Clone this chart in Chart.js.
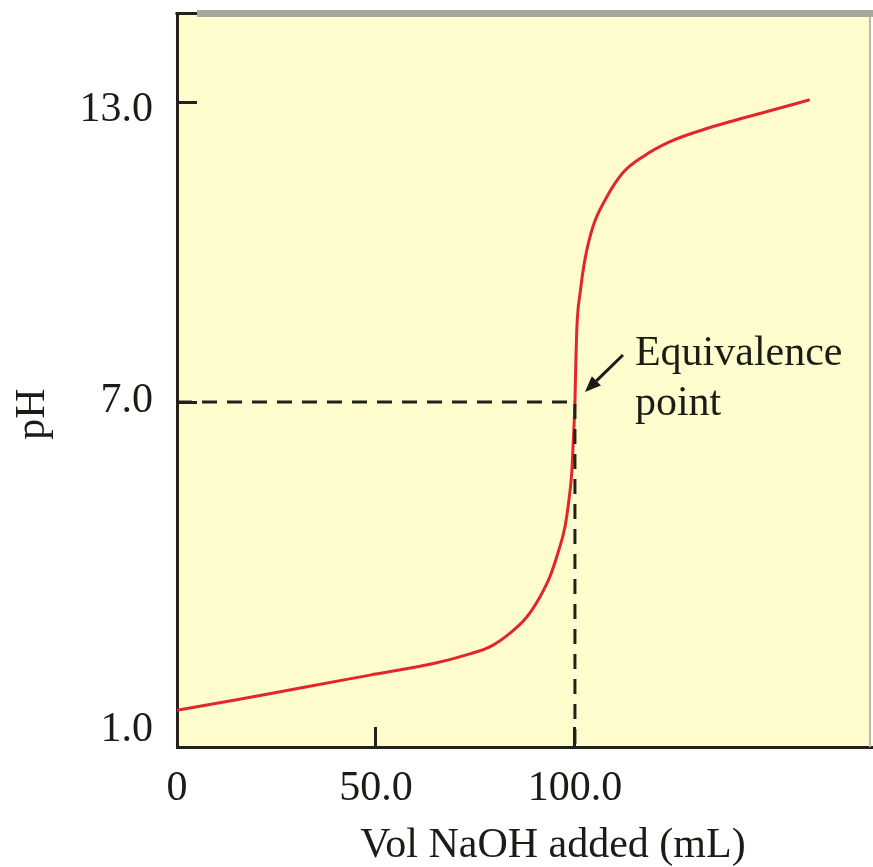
<!DOCTYPE html>
<html>
<head>
<meta charset="utf-8">
<title>Titration curve</title>
<script src="https://cdn.jsdelivr.net/npm/chart.js@4.4.1/dist/chart.umd.min.js"></script>
<style>
  html, body { margin: 0; padding: 0; background: #fff; }
  #wrap { width: 873px; height: 867px; }
</style>
</head>
<body>
<div id="wrap"><canvas id="titrationChart" width="873" height="867"></canvas></div>
<script>
// Titration data: volume of NaOH added (mL) and resulting pH
const volumes = [0, 15, 32, 48.5, 65, 73.6, 78.6, 83.7, 87.9, 91.2, 93.7, 95.7, 97.5, 98.5, 99.2, 99.6,
                 100, 100.2, 100.5, 101.3, 102.5, 104.5, 108, 112.1, 117.1, 123.9, 132.2, 138.9, 149, 159];
const phValues = [1.64, 1.82, 2.04, 2.25, 2.46, 2.62, 2.74, 2.98, 3.26, 3.61, 3.96, 4.37, 4.83, 5.30, 5.77, 6.34,
                  7.0, 7.7, 8.51, 9.19, 9.85, 10.51, 11.11, 11.6, 11.92, 12.22, 12.46, 12.62, 12.84, 13.06];

// Equivalence point
const eqVolume = 100;
const eqPH = 7.0;

// Axis ticks
const xTicks = [0, 50, 100];
const xTickLabels = ['0', '50.0', '100.0'];
const yTicks = [1, 7, 13];
const yTickLabels = ['1.0', '7.0', '13.0'];
const yMin = 1;
const yMax = 14.8;
const xMax = 174.4;

// The pH axis is drawn in two linear pieces, stretched below the break
const PH_BREAK = 7;
const PH_BREAK_AT = 0.47;   // share of the height below the break

class BrokenLinearScale extends Chart.LinearScale {
    getPixelForValue(value) {
        if (value === null || value === undefined) return NaN;
        let dec;
        if (value <= PH_BREAK) {
            dec = (value - this.min) / (PH_BREAK - this.min) * PH_BREAK_AT;
        } else {
            dec = PH_BREAK_AT + (value - PH_BREAK) / (this.max - PH_BREAK) * (1 - PH_BREAK_AT);
        }
        return this.getPixelForDecimal(dec);
    }
    getValueForPixel(pixel) {
        const dec = this.getDecimalForPixel(pixel);
        if (dec <= PH_BREAK_AT) return this.min + dec / PH_BREAK_AT * (PH_BREAK - this.min);
        return PH_BREAK + (dec - PH_BREAK_AT) / (1 - PH_BREAK_AT) * (this.max - PH_BREAK);
    }
}
BrokenLinearScale.id = 'brokenLinear';
BrokenLinearScale.defaults = Chart.LinearScale.defaults;
Chart.register(BrokenLinearScale);

const SERIF = '"Liberation Serif", "Times New Roman", serif';
const INK = '#1c1c16';
const AXIS = '#22221a';

// Background, frame, y labels, axis titles and the equivalence note
const decorPlugin = {
    id: 'decor',
    beforeDraw(chart) {
        const { ctx, chartArea: a } = chart;
        ctx.save();
        ctx.fillStyle = '#fffccd';
        ctx.fillRect(a.left, a.top, a.right - a.left, a.bottom - a.top);
        ctx.restore();
    },
    afterDraw(chart) {
        const { ctx, chartArea: a, scales: { x, y } } = chart;
        ctx.save();

        // frame: grey top bar and faint right edge
        ctx.fillStyle = '#a8a8a2';
        ctx.fillRect(a.left + 20, a.top - 3, chart.width - a.left - 20, 7);
        ctx.fillStyle = AXIS;
        ctx.fillRect(a.left - 1.5, a.top - 1, 21.5, 3);
        ctx.strokeStyle = '#bdbba6';
        ctx.lineWidth = 2;
        ctx.beginPath();
        ctx.moveTo(a.right - 1, a.top + 4);
        ctx.lineTo(a.right - 1, a.bottom);
        ctx.stroke();

        // y tick labels
        const nudge = [-17, -1, 7];
        ctx.font = '42px ' + SERIF;
        ctx.fillStyle = INK;
        ctx.textAlign = 'right';
        ctx.textBaseline = 'middle';
        yTicks.forEach((v, i) => {
            ctx.fillText(yTickLabels[i], a.left - 24, y.getPixelForValue(v) + nudge[i]);
        });

        // axis titles
        ctx.textAlign = 'center';
        ctx.textBaseline = 'alphabetic';
        ctx.fillText('Vol NaOH added (mL)', a.left + 376, a.bottom + 110);
        ctx.save();
        ctx.translate(44, a.top + 401);
        ctx.rotate(-Math.PI / 2);
        ctx.fillText('pH', 0, 0);
        ctx.restore();

        // equivalence point note with arrow
        const px = x.getPixelForValue(eqVolume);
        const py = y.getPixelForValue(eqPH);
        ctx.textAlign = 'left';
        ctx.fillText('Equivalence', px + 60, py - 37);
        ctx.fillText('point', px + 60, py + 13);

        const tx = px + 48, ty = py - 47;
        const hx = px + 10, hy = py - 10;
        const ang = Math.atan2(hy - ty, hx - tx);
        const headLen = 16, headW = 6.5;
        const bx = hx - headLen * Math.cos(ang), by = hy - headLen * Math.sin(ang);
        ctx.strokeStyle = INK;
        ctx.lineWidth = 3;
        ctx.beginPath();
        ctx.moveTo(tx, ty);
        ctx.lineTo(bx, by);
        ctx.stroke();
        ctx.fillStyle = INK;
        ctx.beginPath();
        ctx.moveTo(hx, hy);
        ctx.lineTo(bx + headW * Math.sin(ang), by - headW * Math.cos(ang));
        ctx.lineTo(bx - headW * Math.sin(ang), by + headW * Math.cos(ang));
        ctx.closePath();
        ctx.fill();

        ctx.restore();
    }
};

const ctx = document.getElementById('titrationChart').getContext('2d');
const chart = new Chart(ctx, {
    type: 'line',
    data: {
        datasets: [
            {
                label: 'Equivalence guide',
                data: [{ x: 0, y: eqPH }, { x: eqVolume, y: eqPH }, { x: eqVolume, y: yMin }],
                borderColor: AXIS,
                borderWidth: 3,
                borderDash: [15, 10],
                pointRadius: 0,
                tension: 0,
                fill: false
            },
            {
                label: 'pH',
                data: volumes.map((v, i) => ({ x: v, y: phValues[i] })),
                borderColor: '#e2262a',
                borderWidth: 3,
                pointRadius: 0,
                cubicInterpolationMode: 'monotone',
                fill: false
            }
        ]
    },
    options: {
        responsive: false,
        animation: false,
        layout: { padding: { top: 13, right: 2, left: 0, bottom: 0 } },
        plugins: {
            legend: { display: false },
            tooltip: { enabled: false }
        },
        scales: {
            x: {
                type: 'linear',
                position: 'bottom',
                min: 0,
                max: xMax,
                afterBuildTicks: scale => { scale.ticks = xTicks.map(v => ({ value: v })); },
                afterFit: scale => { scale.height = 120; },
                grid: { drawOnChartArea: false, drawTicks: true, tickLength: -20, color: AXIS, lineWidth: 3 },
                border: { display: true, color: AXIS, width: 3 },
                ticks: {
                    autoSkip: false,
                    maxRotation: 0,
                    padding: 37,
                    color: INK,
                    font: { family: SERIF, size: 42 },
                    callback: value => xTickLabels[xTicks.indexOf(value)]
                }
            },
            y: {
                type: 'brokenLinear',
                position: 'left',
                min: yMin,
                max: yMax,
                afterBuildTicks: scale => { scale.ticks = yTicks.map(v => ({ value: v })); },
                afterFit: scale => { scale.width = 177; },
                grid: { drawOnChartArea: false, drawTicks: true, tickLength: -20, color: AXIS, lineWidth: 3 },
                border: { display: true, color: AXIS, width: 3 },
                ticks: { display: false }
            }
        }
    },
    plugins: [decorPlugin]
});
</script>
</body>
</html>
